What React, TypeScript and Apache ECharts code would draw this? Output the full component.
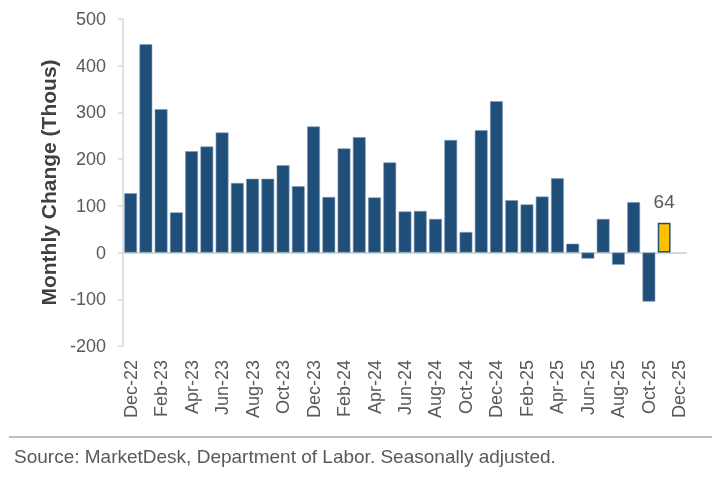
import React, { useEffect, useRef } from "react";
import * as echarts from "echarts";

const categories = [
  "Dec-22", "Jan-23", "Feb-23", "Mar-23", "Apr-23", "May-23", "Jun-23", "Jul-23", "Aug-23", "Sep-23", "Oct-23", "Nov-23",
  "Dec-23", "Jan-24", "Feb-24", "Mar-24", "Apr-24", "May-24", "Jun-24", "Jul-24", "Aug-24", "Sep-24", "Oct-24", "Nov-24",
  "Dec-24", "Jan-25", "Feb-25", "Mar-25", "Apr-25", "May-25", "Jun-25", "Jul-25", "Aug-25", "Sep-25", "Oct-25", "Nov-25",
  "Dec-25",
];

const payrollChanges: (number | null)[] = [
  127, 446, 307, 86, 217, 227, 257, 149, 158, 158, 187, 142,
  270, 119, 223, 247, 118, 193, 88, 89, 72, 241, 44, 262,
  324, 112, 103, 120, 159, 19, -13, 72, -26, 108, -105, 64,
  null,
];

const highlightIndex = 35;
const yTicks = { min: -200, max: 500, interval: 100 };
const yTitle = "Monthly Change (Thous)";
const sourceText = "Source: MarketDesk, Department of Labor. Seasonally adjusted.";

const FONT = '"Liberation Sans", Arial, sans-serif';
const BLUE = "#1F4E79";
const GOLD = "#FFC000";
const GREY_TEXT = "#595959";

export default function App() {
  const ref = useRef<HTMLDivElement>(null);

  useEffect(() => {
    if (!ref.current) return;
    const chart = echarts.init(ref.current, undefined, { renderer: "svg" });

    const data = payrollChanges.map((v, i) =>
      i === highlightIndex
        ? {
            value: v,
            itemStyle: { color: GOLD, borderColor: BLUE, borderWidth: 1.5 },
            label: {
              show: true,
              position: "top",
              distance: 12,
              formatter: "{c}",
              fontSize: 19,
              color: GREY_TEXT,
              fontFamily: FONT,
            },
          }
        : { value: v }
    );

    chart.setOption({
      animation: false,
      textStyle: { fontFamily: FONT },
      grid: { left: 123, right: 29, top: 19, bottom: 131, containLabel: false },
      xAxis: {
        type: "category",
        data: categories,
        position: "bottom",
        axisLine: { show: false, onZero: false },
        axisTick: { show: false },
        axisLabel: {
          interval: 1,
          rotate: 90,
          margin: 14,
          fontSize: 18,
          color: GREY_TEXT,
          fontFamily: FONT,
        },
        splitLine: { show: false },
      },
      yAxis: {
        type: "value",
        min: yTicks.min,
        max: yTicks.max,
        interval: yTicks.interval,
        name: yTitle,
        nameLocation: "middle",
        nameGap: 62,
        nameTextStyle: {
          fontSize: 21,
          fontWeight: "bold",
          color: "#404040",
          fontFamily: FONT,
        },
        axisLine: { show: true, lineStyle: { color: "#d9d9d9", width: 1.5 } },
        axisTick: { show: true, length: 5, lineStyle: { color: "#d9d9d9", width: 1.5 } },
        axisLabel: { fontSize: 18, color: GREY_TEXT, margin: 17, fontFamily: FONT },
        splitLine: { show: false },
      },
      series: [
        {
          type: "bar",
          data,
          barCategoryGap: "16%",
          itemStyle: { color: BLUE, borderColor: "#7f9cb9", borderWidth: 0.6 },
          markLine: {
            silent: true,
            symbol: "none",
            label: { show: false },
            lineStyle: { color: "#d9d9d9", width: 2, type: "solid" },
            data: [{ yAxis: 0 }],
            z: 1,
          },
        },
      ],
      graphic: [
        {
          type: "line",
          shape: { x1: 9, y1: 437, x2: 712, y2: 437 },
          style: { stroke: "#bfbfbf", lineWidth: 2 },
        },
        {
          type: "text",
          left: 14,
          top: 447,
          style: {
            text: sourceText,
            fontSize: 19,
            fill: GREY_TEXT,
            fontFamily: FONT,
          },
        },
      ],
    });

    return () => chart.dispose();
  }, []);

  return (
    <div
      ref={ref}
      style={{ position: "fixed", left: 0, top: 0, width: 716, height: 477 }}
    />
  );
}
